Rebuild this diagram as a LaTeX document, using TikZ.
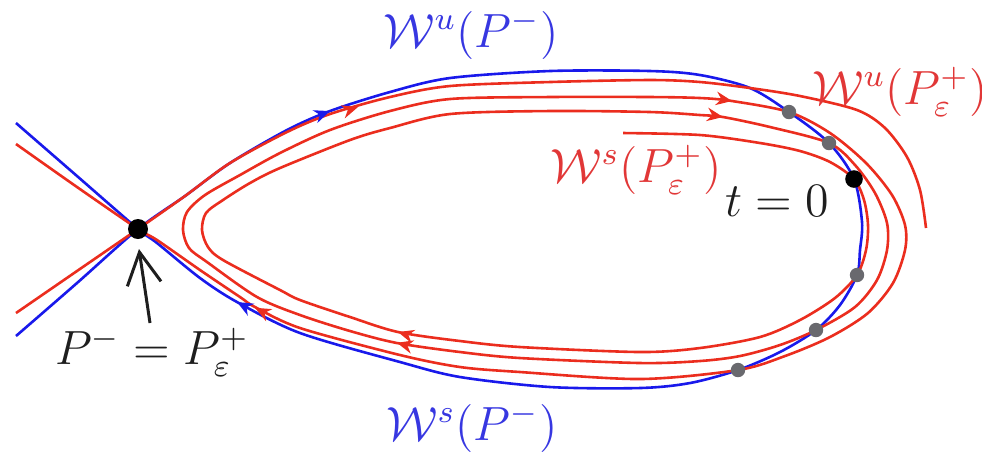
\documentclass[tikz,border=0pt]{standalone}
\usetikzlibrary{arrows.meta,decorations.markings}
\definecolor{lblue}{RGB}{25,25,235}
\definecolor{lred}{RGB}{235,45,30}
\definecolor{tblue}{RGB}{55,55,225}
\definecolor{tred}{RGB}{225,55,55}
\definecolor{dotgray}{RGB}{105,105,110}
\definecolor{ink}{RGB}{30,30,30}
\tikzset{
  blueline/.style={draw=lblue,line width=0.65pt},
  redline/.style={draw=lred,line width=0.65pt},
  arr/.style={decoration={markings,mark=at position 0.5 with {\arrow{Stealth[length=4pt,width=3.4pt]}}},postaction=decorate},
  graydot/.style={circle,fill=dotgray,inner sep=0pt,minimum size=3.6pt},
  blackdot/.style={circle,fill=black,inner sep=0pt,minimum size=4.6pt},
  lbl/.style={font=\fontsize{12}{14}\selectfont,inner sep=0pt}
}
\begin{document}
\begin{tikzpicture}[x=0.25pt,y=-0.25pt]
\useasboundingbox (0,0) rectangle (982,455);
% blue homoclinic loop with left extensions
\draw[blueline] plot[smooth] coordinates {(16,336) (77,283) (138,229) (185,196) (230,163) (287,130) (330,111) (390,92) (450,78) (550,71) (650,71) (700,75) (750,88) (789,112) (829,143) (854,179) (862,222) (860,250) (857,275) (840,305) (816,330) (780,352) (738,370) (690,383) (640,388) (550,387) (460,377) (400,362) (300,333) (237,302) (200,278) (157,243) (138,229) (77,176) (16,123)};
% red unstable manifold of P_eps^+
\draw[redline] plot[smooth] coordinates {(16,313) (77,271) (138,229) (185,196) (230,163) (287,132) (330,114) (390,97) (450,86) (550,82) (650,80) (700,82) (750,88) (800,96) (857,110) (885,128) (907,157) (920,190) (926,228)};
% red stable manifold of P_eps^+ (spiral)
\draw[redline] plot[smooth] coordinates {(623,133) (700,135) (760,143) (800,151) (830,162) (854,179) (864,200) (868,225) (866,250) (857,275) (835,298) (800,320) (760,337) (700,348) (640,352) (520,347) (460,341) (398,332) (350,317) (300,300) (280,290) (223,260) (208,247) (202,230) (206,213) (223,200) (250,183) (280,168) (350,140) (390,128) (450,114) (550,111) (650,112) (700,115) (723,117) (770,127) (829,143) (855,165) (875,193) (887,223) (887,250) (877,280) (855,307) (816,330) (780,345) (740,356) (700,361) (640,363) (520,358) (460,352) (397,343) (350,331) (300,315) (257,297) (207,262) (189,248) (183,230) (187,212) (205,195) (240,175) (280,153) (330,130) (390,111) (450,99) (550,97) (650,97) (700,98) (732,101) (789,112) (830,133) (866,163) (892,195) (905,225) (905,250) (893,283) (868,313) (830,337) (785,356) (738,370) (640,379) (520,372) (460,367) (400,355) (300,328) (255,307) (240,297) (200,270) (157,240) (138,229) (77,187) (16,144)};
% arrows on the curves
\path[lblue,arr] (318,115.5) -- (342,106.6);
\path[lred,arr] (346,110.8) -- (370,103.2);
\path[lred,arr] (720,99) -- (744,103);
\path[lred,arr] (711,115) -- (735,119);
\path[lblue,arr] (248,308) -- (226,296);
\path[lred,arr] (266,313.5) -- (244,302);
\path[lred,arr] (410,335.5) -- (386,328.5);
\path[lred,arr] (409,346) -- (385,339.5);
% intersection dots
\node[graydot] (g1) at (789,112) {};
\node[graydot] (g2) at (829,143) {};
\node[graydot] (g3) at (857,275) {};
\node[graydot] (g4) at (816,330) {};
\node[graydot] (g5) at (738,370) {};
\node[blackdot,minimum size=4.4pt] (t0) at (854,179) {};
\node[blackdot,minimum size=5pt] (P) at (138,229) {};
% labels
\node[lbl,text=tblue] (wuP) at (471,35) {$\mathcal{W}^u(P^-)$};
\node[lbl,text=tblue] (wsP) at (472,428) {$\mathcal{W}^s(P^-)$};
\node[lbl,text=tred] (wuPe) at (900,92) {$\mathcal{W}^u(P^+_\varepsilon)$};
\node[lbl,text=tred] (wsPe) at (636,170) {$\mathcal{W}^s(P^+_\varepsilon)$};
\node[lbl,text=ink] (tlbl) at (777,201) {$t=0$};
\node[lbl,text=ink] (plbl) at (152,352) {$P^-=P^+_\varepsilon$};
\coordinate (astart) at (150,323);
\coordinate (atip) at (139,249);
\draw[ink,line width=0.75pt,-{Straight Barb[length=8pt,width=8.5pt,line width=0.75pt]}] (astart) -- (atip);
\end{tikzpicture}
\end{document}
